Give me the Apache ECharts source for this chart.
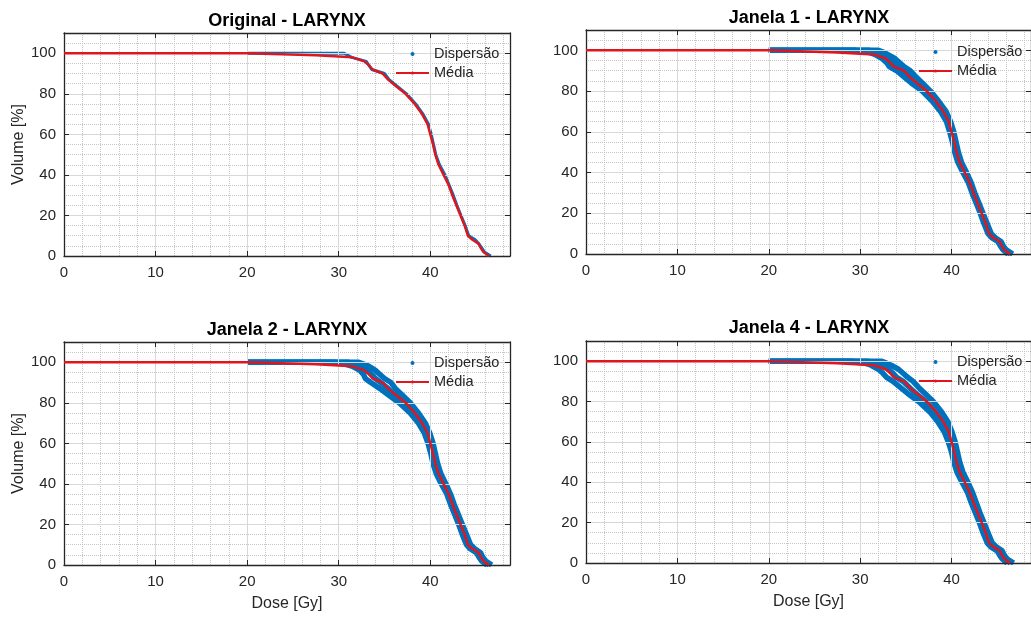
<!DOCTYPE html>
<html>
<head>
<meta charset="utf-8">
<title>LARYNX DVH</title>
<script src="https://cdn.jsdelivr.net/npm/echarts@6/dist/echarts.min.js"></script>
<style>
  html, body { margin: 0; padding: 0; background: #fff; }
  #chart { width: 1031px; height: 617px; }
</style>
</head>
<body>
<div id="chart"></div>
<script>
// volume levels [%] shared by every curve; each curve gives the dose [Gy] at these levels
const volumeLevels = [100, 100, 99, 98, 96, 94, 92, 90, 87, 84, 80, 75, 70, 65, 60, 55, 50, 45, 40, 35, 30, 25, 20, 15, 10, 8, 6, 4, 2, 0]

// mean curve (Média)
const mediaDose = [0, 20, 27.5, 31.5, 32.8, 33.3, 33.7, 34.8, 35.4, 36.2, 37.3, 38.3, 39.1, 39.7, 40.0, 40.3, 40.55, 40.9, 41.45, 42.0, 42.4, 42.85, 43.3, 43.75, 44.1, 44.6, 45.3, 45.5, 45.8, 46.4]

// scatter band (Dispersão) per panel
const originalDose = [20, 30.6, 31.0, 31.4, 33.0, 33.3, 33.6, 35.0, 35.5, 36.3, 37.4, 38.4, 39.2, 39.8, 40.1, 40.35, 40.6, 41.0, 41.6, 42.05, 42.5, 42.9, 43.35, 43.8, 44.2, 44.9, 45.3, 45.6, 45.9, 46.6]

const janela1Low = [20, 29.5, 31.0, 31.6, 32.4, 32.9, 33.2, 34.0, 34.8, 35.6, 36.8, 37.9, 38.8, 39.45, 39.8, 40.1, 40.35, 40.7, 41.25, 41.85, 42.25, 42.7, 43.15, 43.55, 44.0, 44.4, 45.1, 45.35, 45.65, 46.2]
const janela1Mid = [20, 31.0, 31.8, 32.3, 33.1, 33.6, 34.0, 34.8, 35.5, 36.2, 37.25, 38.25, 39.1, 39.7, 40.05, 40.3, 40.55, 40.9, 41.45, 42.0, 42.4, 42.85, 43.3, 43.75, 44.15, 44.6, 45.25, 45.5, 45.8, 46.45]
const janela1High = [20, 32.0, 32.6, 33.0, 33.8, 34.3, 34.8, 35.5, 36.1, 36.8, 37.7, 38.6, 39.4, 39.9, 40.25, 40.5, 40.75, 41.1, 41.65, 42.15, 42.55, 43.0, 43.45, 43.9, 44.35, 44.8, 45.45, 45.65, 46.0, 46.7]

const janela2Low = [20, 29.5, 30.8, 31.5, 32.3, 32.7, 32.9, 33.5, 34.5, 35.4, 36.6, 37.8, 38.7, 39.35, 39.75, 40.05, 40.3, 40.65, 41.2, 41.8, 42.2, 42.65, 43.1, 43.5, 43.95, 44.35, 45.05, 45.3, 45.6, 46.2]
const janela2Mid = [20, 31.0, 31.8, 32.4, 33.1, 33.6, 34.0, 34.6, 35.4, 36.1, 37.2, 38.2, 39.05, 39.65, 40.0, 40.3, 40.55, 40.9, 41.45, 42.0, 42.4, 42.85, 43.3, 43.7, 44.15, 44.6, 45.25, 45.5, 45.8, 46.45]
const janela2High = [20, 32.2, 32.8, 33.3, 34.0, 34.5, 35.0, 35.7, 36.2, 36.9, 37.8, 38.7, 39.45, 39.95, 40.3, 40.55, 40.8, 41.15, 41.7, 42.2, 42.6, 43.05, 43.5, 43.95, 44.4, 44.85, 45.5, 45.7, 46.05, 46.7]

const janela4Low = [20, 29.0, 30.5, 31.2, 32.0, 32.5, 32.9, 33.6, 34.4, 35.2, 36.4, 37.6, 38.5, 39.2, 39.65, 40.0, 40.25, 40.6, 41.15, 41.75, 42.15, 42.6, 43.05, 43.45, 43.9, 44.3, 45.0, 45.25, 45.55, 46.1]
const janela4Mid = [20, 30.8, 31.7, 32.3, 33.1, 33.6, 34.0, 34.7, 35.4, 36.1, 37.2, 38.2, 39.05, 39.6, 40.0, 40.3, 40.55, 40.9, 41.45, 42.0, 42.4, 42.85, 43.3, 43.7, 44.15, 44.6, 45.25, 45.5, 45.8, 46.45]
const janela4High = [20, 32.3, 32.9, 33.4, 34.2, 34.7, 35.2, 35.8, 36.4, 37.1, 38.0, 38.9, 39.6, 40.05, 40.4, 40.65, 40.9, 41.25, 41.8, 42.3, 42.7, 43.1, 43.55, 44.0, 44.45, 44.9, 45.55, 45.75, 46.1, 46.8]

const titles = ['Original - LARYNX', 'Janela 1 - LARYNX', 'Janela 2 - LARYNX', 'Janela 4 - LARYNX']
const bandCurves = [
  [originalDose],
  [janela1Low, janela1Mid, janela1High],
  [janela2Low, janela2Mid, janela2High],
  [janela4Low, janela4Mid, janela4High]
]

const FONT = '"Liberation Sans", Arial, Helvetica, sans-serif'
const AXIS_COLOR = '#262626'
const BLUE = '#0072bd'
const RED = '#e0161e'

// panel layout (pixels)
const panels = [
  { grid: { left: 64, top: 33, width: 446, height: 223 }, title: [287, 21], legend: [395, 46], yName: true, xName: false },
  { grid: { left: 586, top: 30, width: 446, height: 224 }, title: [809, 18], legend: [918, 44], yName: false, xName: false },
  { grid: { left: 64, top: 342, width: 446, height: 223 }, title: [287, 330], legend: [395, 355], yName: true, xName: true },
  { grid: { left: 586, top: 341, width: 446, height: 222 }, title: [809, 328], legend: [918, 354], yName: false, xName: true }
]

function toPairs(doses) {
  return doses.map((d, k) => [d, volumeLevels[k]])
}

const boxLine = { show: true, onZero: false, lineStyle: { color: AXIS_COLOR, width: 1.3 } }
const boxTick = { show: true, inside: true, length: 5, lineStyle: { color: AXIS_COLOR } }

const option = {
  animation: false,
  backgroundColor: '#fff',
  textStyle: { fontFamily: FONT },
  title: [],
  legend: [],
  grid: [],
  xAxis: [],
  yAxis: [],
  series: []
}

panels.forEach((p, i) => {
  option.grid.push(Object.assign({ containLabel: false }, p.grid))

  option.title.push({
    text: titles[i],
    left: p.title[0],
    top: p.title[1],
    textAlign: 'center',
    textVerticalAlign: 'middle',
    padding: 0,
    textStyle: { fontSize: 18, fontWeight: 'bold', color: '#000', fontFamily: FONT }
  })

  option.legend.push({
    orient: 'vertical',
    left: p.legend[0],
    top: p.legend[1],
    padding: 0,
    itemWidth: 33,
    itemHeight: 4,
    itemGap: 3,
    selectedMode: false,
    itemStyle: { borderWidth: 0 },
    textStyle: { fontSize: 14.5, color: AXIS_COLOR, fontFamily: FONT, lineHeight: 16 },
    data: [{ name: 'Dispersão', icon: 'circle' }, { name: 'Média' }]
  })

  // main x axis (bottom) with labels and major grid
  option.xAxis.push({
    type: 'value', gridIndex: i, position: 'bottom', min: 0, max: 48.7, interval: 10, z: 3,
    name: p.xName ? 'Dose [Gy]' : '',
    nameLocation: 'middle', nameGap: 31,
    nameTextStyle: { fontSize: 16, color: AXIS_COLOR, fontFamily: FONT },
    axisLine: boxLine,
    axisTick: boxTick,
    axisLabel: { fontSize: 15, color: AXIS_COLOR, margin: 9, showMaxLabel: false, fontFamily: FONT },
    splitLine: { show: true, lineStyle: { color: '#d8d8d8', width: 1 } }
  })
  // minor x grid
  option.xAxis.push({
    type: 'value', gridIndex: i, position: 'bottom', min: 0, max: 48.7, interval: 2, z: 1,
    axisLine: { show: false, onZero: false }, axisTick: { show: false }, axisLabel: { show: false },
    splitLine: { show: true, lineStyle: { color: '#c6c6c6', width: 1, type: 'dotted' } }
  })
  // top box edge with ticks
  option.xAxis.push({
    type: 'value', gridIndex: i, position: 'top', min: 0, max: 48.7, interval: 10, z: 3,
    axisLine: boxLine, axisTick: boxTick,
    axisLabel: { show: false }, splitLine: { show: false }
  })

  option.yAxis.push({
    type: 'value', gridIndex: i, position: 'left', min: 0, max: 110, interval: 20, z: 3,
    name: p.yName ? 'Volume [%]' : '',
    nameLocation: 'middle', nameGap: 36,
    nameTextStyle: { fontSize: 16, color: AXIS_COLOR, fontFamily: FONT },
    axisLine: boxLine,
    axisTick: boxTick,
    axisLabel: { fontSize: 15, color: AXIS_COLOR, margin: 8, showMaxLabel: false, fontFamily: FONT },
    splitLine: { show: true, lineStyle: { color: '#d8d8d8', width: 1 } }
  })
  option.yAxis.push({
    type: 'value', gridIndex: i, position: 'left', min: 0, max: 110, interval: 5, z: 1,
    axisLine: { show: false, onZero: false }, axisTick: { show: false }, axisLabel: { show: false },
    splitLine: { show: true, lineStyle: { color: '#c6c6c6', width: 1, type: 'dotted' } }
  })
  option.yAxis.push({
    type: 'value', gridIndex: i, position: 'right', min: 0, max: 110, interval: 20, z: 3,
    axisLine: boxLine, axisTick: boxTick,
    axisLabel: { show: false }, splitLine: { show: false }
  })

  bandCurves[i].forEach(curve => {
    option.series.push({
      type: 'line',
      name: 'Dispersão',
      xAxisIndex: i * 3,
      yAxisIndex: i * 3,
      data: toPairs(curve),
      symbol: 'none',
      silent: true,
      z: 2,
      lineStyle: { color: BLUE, width: i === 0 ? 3 : 5.5 },
      itemStyle: { color: BLUE }
    })
  })

  option.series.push({
    type: 'line',
    name: 'Média',
    xAxisIndex: i * 3,
    yAxisIndex: i * 3,
    data: toPairs(mediaDose),
    symbol: 'none',
    silent: true,
    z: 4,
    lineStyle: { color: RED, width: 2.5 },
    itemStyle: { color: RED }
  })
})

const chart = echarts.init(document.getElementById('chart'), null, { renderer: 'canvas' })
chart.setOption(option)
</script>
</body>
</html>
